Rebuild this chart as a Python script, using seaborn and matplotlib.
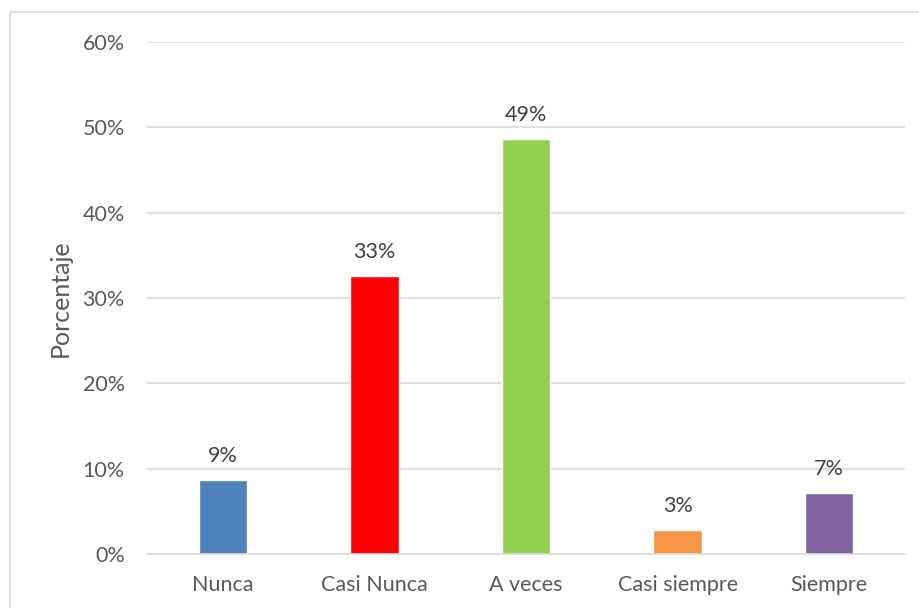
import matplotlib
matplotlib.use("Agg")
import matplotlib.pyplot as plt
import seaborn as sns
import pandas as pd
from matplotlib.patches import Rectangle

categories = ["Nunca", "Casi Nunca", "A veces", "Casi siempre", "Siempre"]
values = [8.7, 32.6, 48.6, 2.8, 7.2]
labels = ["9%", "33%", "49%", "3%", "7%"]
colors = ["#4F81BD", "#FF0000", "#92D050", "#F79646", "#8064A2"]
yticks = [0, 10, 20, 30, 40, 50, 60]
ytick_labels = ["0%", "10%", "20%", "30%", "40%", "50%", "60%"]

sns.set_theme(style="white")
plt.rcParams["font.family"] = ["Lato", "DejaVu Sans"]
txt = "#595959"

df = pd.DataFrame({"cat": categories, "val": values})
fig = plt.figure(figsize=(9.2, 6.08), dpi=100)
ax = fig.add_axes([147/920, 1-554/608, (905-147)/920, (554-42)/608])
sns.barplot(data=df, x="cat", y="val", hue="cat", palette=colors, legend=False,
            width=0.32, ax=ax, saturation=1)
ax.set_ylim(0, 60)
ax.set_xlim(-0.5, 4.5)
ax.set_yticks(yticks)
ax.set_yticklabels(ytick_labels)
ax.yaxis.grid(True, color="#D9D9D9", linewidth=1.2)
ax.set_axisbelow(True)
for s in ["top", "right", "left"]:
    ax.spines[s].set_visible(False)
ax.spines["bottom"].set_color("#D9D9D9")
ax.spines["bottom"].set_linewidth(1.2)
ax.tick_params(axis="both", length=0, labelsize=15.5, colors=txt)
ax.tick_params(axis="y", pad=16)
ax.tick_params(axis="x", pad=15)
ax.set_xlabel("")
ax.set_ylabel("Porcentaje", fontsize=18, color=txt, labelpad=8)
for i, (v, l) in enumerate(zip(values, labels)):
    ax.annotate(l, (i, v), xytext=(0, 10), textcoords="offset points",
                ha="center", va="bottom", fontsize=15.5, color="#404040")

fig.patches.append(Rectangle((10/920, -0.1), 1.2, 1-12/608+0.1,
                             transform=fig.transFigure, fill=False,
                             edgecolor="#D9D9D9", linewidth=1.2))
fig.savefig("out.png", dpi=100)
